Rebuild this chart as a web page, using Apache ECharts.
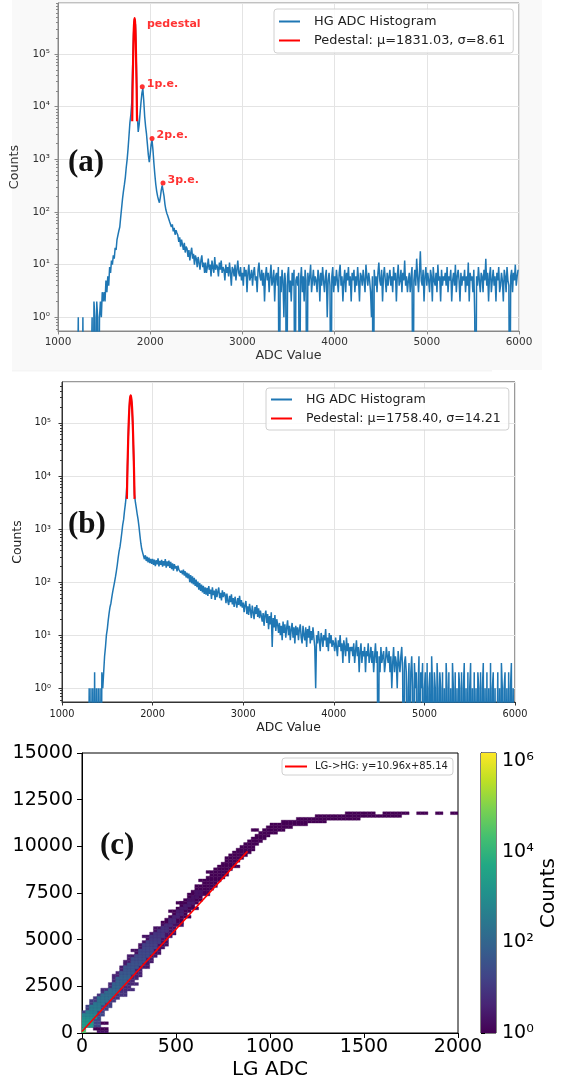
<!DOCTYPE html>
<html><head><meta charset="utf-8">
<script src="https://cdn.jsdelivr.net/npm/echarts@6/dist/echarts.min.js"></script>
<style>html,body{margin:0;padding:0;background:#fff}#c{width:570px;height:1083px}</style>
</head><body><div id="c"></div><script>
// ================= DATA =================
// Panel (a): HG ADC histogram (counts per bin)
const aCoreStart = 1200, aCoreStep = 10;
const aCoreCounts = [
 0,0,1,0,0,0,0,1,0,0,
 0,0,0,0,0,0,0,1,0,2,
 1,0,2,1,0,1,2,1,3,2,
 3,2,5,3,6,4,9,7,12,10,
 15,13,21,19,30,28,44,52,80,120,
 180,250,330,450,700,1000,1600,2800,5000,7000,
 12000,60000,250000,460000,360000,60000,7000,3300,4500,7500,
 12000,18000,22000,13000,6500,4200,3000,1900,1200,880,
 1250,1900,2300,1500,850,520,340,250,200,170,
 150,190,260,320,300,200,140,110,95,85,
 78,66,70,52,58,43,50,37,45,40,
 36,27,33,22,30,24,19,26,17,22,
 20,14,19,12,17,21,13,16,10,15,
 13,9,14,11,8,12,15,9,11,7
];
const aTailStart = 2600, aTailStep = 10;
const aTailCounts = [
 11,7,9,13,8,10,6,12,9,7,14,8,10,9,6,11,8,12,7,9,
 8,5,10,7,9,6,11,7,4,9,8,6,10,5,8,12,7,6,9,5,
 7,4,9,6,8,3,7,10,5,6,8,4,7,9,5,6,3,8,11,6,
 5,8,4,7,2,6,9,5,7,3,6,10,4,5,8,2,6,7,4,9,
 0,6,3,8,5,1,7,4,0,6,9,3,5,2,7,4,8,0,5,6,
 4,7,0,5,9,3,6,2,8,5,0,7,4,6,10,3,5,8,4,6,
 5,3,8,6,2,7,4,9,5,3,6,8,1,5,7,4,0,6,9,3,
 6,4,8,5,3,7,10,4,6,2,5,8,3,7,5,9,4,6,2,7,
 5,8,3,6,4,9,5,2,7,6,4,8,5,3,10,6,4,7,5,3,
 1,6,0,8,4,6,3,7,11,5,4,8,2,6,9,5,3,7,4,6,
 8,4,6,3,9,5,7,2,6,10,4,5,8,3,7,5,12,4,6,3,
 5,7,3,6,9,0,5,8,4,13,6,3,7,18,5,4,8,2,6,9,
 4,7,5,3,8,6,2,9,5,4,7,3,10,5,6,2,8,4,6,5,
 7,4,9,3,6,5,8,2,5,7,4,10,3,6,8,5,2,7,4,6,
 5,8,3,6,4,11,2,7,5,6,3,8,1,0,6,4,9,5,3,7,
 6,3,8,5,13,4,7,2,6,9,3,5,8,4,6,2,7,5,9,3,
 4,7,5,2,8,6,3,9,5,4,0,6,8,3,7,5,10,4,6,8
];
const aPedX = [1805,1809,1814,1818,1822,1827,1831,1835,1840,1844,1848,1853,1857];
const aPedY = [5300,21000,65000,156000,290000,420000,480000,420000,290000,156000,65000,21000,5300];
const peLabels = ['1p.e.','2p.e.','3p.e.'];
const peADC = [1914,2020,2139];
const peCounts = [24000,2500,357];
const pedestalLabelPos = [1965, 370000];

// Panel (b)
const bCoreStart = 1200, bCoreStep = 10;
const bCoreCounts = [
 0,0,0,0,0,0,0,0,0,0,
 1,0,1,0,1,0,2,0,1,0,
 1,0,1,0,2,1,2,4,6,10,
 13,19,26,34,40,52,66,81,100,125,
 160,210,290,380,460,620,850,1200,1500,2200,
 3000,4500,9000,46000,150000,290000,330000,240000,100000,25000,
 4500,3200,2500,1900,1500,1100,760,540,420,360,
 340,270,320,250,300,235,290,228,275,220,
 275,210,265,200,258,215,280,198,250,212,
 262,195,248,205,270,188,245,200,255,185,
 240,175,225,165,218,180,200,160,205,172,
 180,150,165,140,172,132,160,122,150,118,
 145,100,135,95,128,90,120,85,112,80,
 102,72,96,68,90,64,85,60,80,58
];
const bTailStart = 2600, bTailStep = 10;
const bTailCounts = [
 78,55,84,60,72,48,80,57,69,46,75,52,66,79,50,63,45,70,52,64,
 58,40,61,44,37,55,42,59,38,50,34,53,41,33,50,37,55,35,46,33,
 41,27,37,44,25,35,24,39,29,21,36,27,20,34,25,37,22,32,21,29,
 28,18,26,15,24,29,17,25,13,23,16,27,6,21,14,24,12,20,16,11,
 17,10,15,8,18,11,16,9,14,19,10,15,8,13,17,9,14,7,15,10,
 14,8,13,16,9,7,15,10,8,14,6,13,9,15,7,12,8,14,9,6,
 1,10,7,12,8,5,11,9,6,10,8,13,6,9,5,11,7,10,6,8,
 7,5,9,6,4,8,6,10,5,7,3,8,6,4,9,5,7,3,6,5,
 6,4,7,3,5,8,4,6,2,5,7,3,5,4,6,2,5,4,7,3,
 4,6,3,5,2,4,7,3,5,0,4,2,6,3,4,5,2,3,6,4,
 3,5,2,4,1,3,6,2,4,3,1,5,3,2,4,6,2,0,3,4,
 2,0,1,3,0,2,4,1,0,3,1,2,0,1,4,0,2,1,3,0,
 1,2,0,3,0,1,2,0,4,1,0,2,1,0,3,1,0,2,1,0,
 2,0,1,0,3,1,0,2,0,1,0,3,1,0,2,0,1,0,2,1,
 0,2,0,1,3,0,1,0,2,0,1,3,0,1,0,2,0,1,0,2,
 1,0,2,0,1,3,0,1,0,2,0,1,0,3,0,1,2,0,1,0,
 0,2,0,1,0,3,1,0,1,2,0,1,0,2,0,1,3,0,1,0
];
const bPedX = [1716,1723,1730,1737,1744,1751,1758,1765,1773,1780,1787,1794,1801];
const bPedY = [3700,15000,44000,108000,200000,290000,330000,290000,200000,108000,44000,15000,3700];

// Panel (c): 2D histogram LG vs HG, stored per HG row (row r covers HG r*150 .. r*150+150)
const lgBin = 20, hgBin = 150;
const rowLo = [0,0,0,0,0,0,0,0,20,20, 40,40,60,80,100,100,140,140,160,160,
 160,180,200,200,220,220,240,240,280,260, 300,300,320,340,320,360,380,380,420,420,
 440,460,480,460,500,520,520,540,560,560, 580,600,600,640,620,660,680,660,700,720,
 740,760,760,780,800,820,840,860,880,900, 920,940,960,980,1000,1060,1140,1240,1400,-1];
const rowHi = [20,20,100,100,100,100,120,120,140,160, 160,180,200,240,240,280,260,300,280,300,
 320,320,320,360,360,380,380,400,420,420, 440,460,460,460,480,500,500,500,540,540,
 540,580,560,580,620,600,620,640,640,680, 680,700,720,720,740,760,780,780,800,840,
 820,840,860,880,900,920,920,940,960,980, 1000,1040,1080,1120,1200,1300,1480,1700,1560,-1];
const rowCount = [30000,6000,20,20,20,20,20,15,15,15, 12,12,10,8,8,6,6,5,5,5,
 4,4,4,3,3,3,3,3,2,2, 2,2,2,2,2,2,2,2,2,1,
 1,1,1,1,1,1,1,1,1,1, 1,1,1,1,1,1,1,1,1,1,
 1,1,1,1,1,1,1,1,1,1, 1,1,1,1,1,1,1,1,1,0];
// extra isolated runs: [row, lgFrom, lgTo, count]
const strayRuns = [[0,80,140,2],[1,60,140,1],[3,100,140,1],[46,500,540,1],[72,900,940,1],
 [78,1600,1740,1],[78,1780,1840,1],[78,1880,1920,1],[78,1960,2000,1]];
// brighter core runs: [row, lgFrom, lgTo, count]
const coreRuns = [
 [2,0,60,2500],[3,0,60,2000],[4,0,60,1500],[5,0,80,900],[6,0,80,600],
 [7,20,80,400],[8,40,100,350],[9,40,100,300],[10,60,120,250],[11,80,140,200],[12,80,160,180],
 [13,100,180,150],[14,120,200,130],[15,140,200,110],[16,160,220,100],[17,160,240,90],[18,180,240,80],[19,180,260,70],[20,200,260,60],
 [21,200,280,50],[22,220,280,45],[23,220,300,40],[24,240,320,35],[25,260,340,30],[26,260,340,28],[27,280,360,25],[28,300,380,22],[29,300,380,20],[30,320,400,18],
 [31,320,400,15],[32,340,420,13],[33,360,420,12],[34,360,440,10],[35,380,440,9],[36,400,460,8],[37,420,460,7],[38,440,480,6],[39,460,500,5],[40,460,500,5],
 [41,480,520,4],[42,500,540,4],[43,500,540,3],[44,520,560,3],[45,540,580,3],[46,560,600,3],[47,560,600,2],[48,580,620,2],[49,600,640,2],[50,600,640,2]
];
const fitLG = [0, 880];
const fitHG = [85.14, 9729.9];
const cbMin = 1, cbMax = 1.5e6;
const cbTicks = [1, 100, 10000, 1000000];

// ================= BUILD =================
function histPairs(start, step, counts) {
  return counts.map((c, i) => [start + i * step, c > 0 ? c : 1e-3]);
}
const aHist = histPairs(aCoreStart, aCoreStep, aCoreCounts).concat(histPairs(aTailStart, aTailStep, aTailCounts));
const bHist = histPairs(bCoreStart, bCoreStep, bCoreCounts).concat(histPairs(bTailStart, bTailStep, bTailCounts));
const aPed = aPedX.map((x, i) => [x, aPedY[i]]);
const bPed = bPedX.map((x, i) => [x, bPedY[i]]);
const peDots = peADC.map((x, i) => [x, peCounts[i], peLabels[i]]);

const cells = [];
function addRun(r, lo, hi, c) { for (let lg = lo; lg < hi; lg += lgBin) cells.push([lg, r * hgBin, c]); }
rowLo.forEach((lo, r) => { if (lo >= 0) addRun(r, lo, rowHi[r], rowCount[r]); });
strayRuns.forEach(s => addRun(s[0], s[1], s[2], s[3]));
coreRuns.forEach(s => addRun(s[0], s[1], s[2], s[3]));

const VIR = ['#440154','#482475','#414487','#355f8d','#2a788e','#21918c','#22a884','#44bf70','#7ad151','#bddf26','#fde725'];
function hex(h){return [parseInt(h.slice(1,3),16),parseInt(h.slice(3,5),16),parseInt(h.slice(5,7),16)];}
function viridis(t){
  t = Math.max(0, Math.min(1, t)); const f = t * 10; const i = Math.min(9, Math.floor(f)); const u = f - i;
  const a = hex(VIR[i]), b = hex(VIR[i+1]);
  return 'rgb(' + a.map((v, k) => Math.round(v + (b[k] - v) * u)).join(',') + ')';
}
const SUP = {'0':'⁰','1':'¹','2':'²','3':'³','4':'⁴','5':'⁵','6':'⁶','7':'⁷','8':'⁸','9':'⁹','-':'⁻'};
function powLabel(v){
  const e = Math.round(Math.log10(v));
  if (Math.abs(Math.log10(v) - e) > 1e-6) return '';
  return '10' + String(e).split('').map(ch => SUP[ch]).join('');
}
function minorVals(lo, hi){ const out=[]; for(let e=-1;e<=6;e++) for(let m=2;m<=9;m++){const v=m*Math.pow(10,e); if(v>lo&&v<hi) out.push(v);} return out; }
const plain = v => String(v);

const FONT = 'DejaVu Sans';
const aYmin = 0.55, aYmax = 9.3e5, bYmin = 0.55, bYmax = 5.9e5;

function xHist(gridIndex, fs, margin, gap, nameFs, col, spine){
  return {gridIndex, type:'value', min:1000, max:6000, interval:1000,
    name:'ADC Value', nameLocation:'middle', nameGap:gap,
    nameTextStyle:{fontFamily:FONT, fontSize:nameFs, color:col},
    axisLine:{show:true, lineStyle:{color:spine, width:1}},
    axisTick:{show:true, inside:false, length:3.5, lineStyle:{color:spine}},
    axisLabel:{fontFamily:FONT, fontSize:fs, color:col, margin, formatter:plain},
    splitLine:{show:true, lineStyle:{color:'#e4e4e4', width:1}}};
}
function yHist(gridIndex, min, max, fs, margin, gap, nameFs, col, spine){
  return [{gridIndex, type:'log', logBase:10, min, max, position:'left',
    name:'Counts', nameLocation:'middle', nameGap:gap,
    nameTextStyle:{fontFamily:FONT, fontSize:nameFs, color:col},
    axisLine:{show:true, lineStyle:{color:spine, width:1}},
    axisTick:{show:true, inside:false, length:3.5, lineStyle:{color:spine}},
    axisLabel:{fontFamily:FONT, fontSize:fs, color:col, margin, formatter:powLabel, showMinLabel:false, showMaxLabel:false},
    splitLine:{show:true, lineStyle:{color:'#e4e4e4', width:1}}},
   {gridIndex, type:'log', logBase:10, min, max, position:'left',
    axisLine:{show:false}, splitLine:{show:false},
    axisTick:{show:true, inside:false, length:2, lineStyle:{color:spine}, customValues:minorVals(min,max)},
    axisLabel:{show:false}}];
}

const option = {
  animation:false,
  backgroundColor:'#fff',
  graphic:[
    {type:'rect', z:-10, silent:true, shape:{x:12, y:0, width:530, height:370}, style:{fill:'#f9f9f9'}},
    {type:'rect', z:-10, silent:true, shape:{x:12, y:370.5, width:480, height:0.8}, style:{fill:'#ececec'}},
    {type:'text', z:50, style:{text:'(a)', x:68, y:163, verticalAlign:'middle', font:'bold 31px "Liberation Serif"', fill:'#111'}},
    {type:'text', z:50, style:{text:'(b)', x:68, y:525, verticalAlign:'middle', font:'bold 31px "Liberation Serif"', fill:'#111'}},
    {type:'text', z:50, style:{text:'(c)', x:100, y:846, verticalAlign:'middle', font:'bold 31px "Liberation Serif"', fill:'#111'}}
  ],
  grid:[
    {left:58, top:3, width:461, height:328, show:true, backgroundColor:'#fff', borderColor:'#888', borderWidth:1, outerBoundsMode:'none', containLabel:false},
    {left:62, top:382, width:453, height:320, show:true, backgroundColor:'#fff', borderColor:'#333', borderWidth:1, outerBoundsMode:'none', containLabel:false},
    {left:82, top:753, width:376, height:280, show:true, backgroundColor:'#fff', borderColor:'#000', borderWidth:1, outerBoundsMode:'none', containLabel:false},
    {left:481, top:753, width:15, height:280, show:true, borderColor:'#000', borderWidth:1, outerBoundsMode:'none', containLabel:false}
  ],
  legend:[
    {data:['HG ADC Histogram','Pedestal: μ=1831.03, σ=8.61'], orient:'vertical', left:274, top:9,
     icon:'rect', itemWidth:21, itemHeight:2, itemGap:4, padding:[5,8,5,5],
     backgroundColor:'rgba(255,255,255,0.85)', borderColor:'#d0d0d0', borderWidth:1, borderRadius:3,
     textStyle:{fontFamily:FONT, fontSize:12.9, color:'#222', lineHeight:15, padding:[0,0,0,9]}, selectedMode:false},
    {data:['HG ADC Histogram','Pedestal: μ=1758.40, σ=14.21'], orient:'vertical', left:266, top:388,
     icon:'rect', itemWidth:21, itemHeight:2, itemGap:4, padding:[4,8,4,5],
     backgroundColor:'rgba(255,255,255,0.85)', borderColor:'#d0d0d0', borderWidth:1, borderRadius:3,
     textStyle:{fontFamily:FONT, fontSize:12.6, color:'#222', lineHeight:15, padding:[0,0,0,9]}, selectedMode:false},
    {data:['LG->HG: y=10.96x+85.14'], orient:'vertical', left:282, top:758,
     icon:'rect', itemWidth:22, itemHeight:2, padding:[3,5,3,3],
     backgroundColor:'#fff', borderColor:'#d0d0d0', borderWidth:1, borderRadius:3,
     textStyle:{fontFamily:FONT, fontSize:10, color:'#222', lineHeight:11, padding:[0,0,0,3]}, selectedMode:false}
  ],
  xAxis:[
    xHist(0, 10.5, 6, 18, 12.7, '#333', '#888'),
    xHist(1, 9.8, 7, 20, 12.4, '#222', '#333'),
    {gridIndex:2, type:'value', min:0, max:2000, interval:500,
     name:'LG ADC', nameLocation:'middle', nameGap:27, nameTextStyle:{fontFamily:FONT, fontSize:20, color:'#000'},
     axisLine:{show:true, lineStyle:{color:'#000'}}, axisTick:{show:true, length:5, lineStyle:{color:'#000'}},
     axisLabel:{fontFamily:FONT, fontSize:19, color:'#000', margin:5, formatter:plain}, splitLine:{show:false}},
    {gridIndex:3, type:'value', min:0, max:1, show:false}
  ],
  yAxis:[].concat(
    yHist(0, aYmin, aYmax, 10.5, 8, 32, 12.7, '#333', '#888'),
    yHist(1, bYmin, bYmax, 9.8, 11, 32, 12.4, '#222', '#333'),
    [{gridIndex:2, type:'value', min:0, max:15000, interval:2500,
      name:'HG ADC', nameLocation:'middle', nameGap:67, nameTextStyle:{fontFamily:FONT, fontSize:20, color:'#000'},
      axisLine:{show:true, lineStyle:{color:'#000'}}, axisTick:{show:true, length:5, lineStyle:{color:'#000'}},
      axisLabel:{fontFamily:FONT, fontSize:19, color:'#000', margin:9, formatter:plain}, splitLine:{show:false}},
     {gridIndex:3, type:'log', logBase:10, min:cbMin, max:cbMax, position:'right',
      name:'Counts', nameLocation:'middle', nameGap:43, nameTextStyle:{fontFamily:FONT, fontSize:20, color:'#000'},
      axisLine:{show:true, lineStyle:{color:'#000'}},
      axisTick:{show:true, length:4, lineStyle:{color:'#000'}, customValues:cbTicks},
      axisLabel:{fontFamily:FONT, fontSize:19, color:'#000', margin:6, formatter:powLabel, customValues:cbTicks},
      splitLine:{show:false}}]
  ),
  series:[
    {name:'HG ADC Histogram', type:'line', xAxisIndex:0, yAxisIndex:0, data:aHist, symbol:'none', clip:true,
     color:'#1f77b4', lineStyle:{color:'#1f77b4', width:1.5}, z:2},
    {name:'Pedestal: μ=1831.03, σ=8.61', type:'line', xAxisIndex:0, yAxisIndex:0, data:aPed, symbol:'none', smooth:0.25, clip:true,
     color:'#ff0000', lineStyle:{color:'#ff0000', width:2.2}, z:3},
    {name:'pe', type:'scatter', xAxisIndex:0, yAxisIndex:0, data:peDots, symbolSize:5, itemStyle:{color:'#ff0000'}, z:4,
     label:{show:true, position:'right', distance:2, offset:[0,-3], formatter:p=>p.data[2],
       fontFamily:FONT, fontWeight:'bold', fontSize:11, color:'#ff0000'}},
    {name:'pedlabel', type:'scatter', xAxisIndex:0, yAxisIndex:0, data:[pedestalLabelPos.concat(['pedestal'])], symbolSize:0, z:4,
     label:{show:true, position:[0,0], align:'left', verticalAlign:'middle', formatter:p=>p.data[2],
       fontFamily:FONT, fontWeight:'bold', fontSize:11, color:'#ff0000'}},
    {name:'HG ADC Histogram', type:'line', xAxisIndex:1, yAxisIndex:2, data:bHist, symbol:'none', clip:true,
     color:'#1f77b4', lineStyle:{color:'#1f77b4', width:1.5}, z:2},
    {name:'Pedestal: μ=1758.40, σ=14.21', type:'line', xAxisIndex:1, yAxisIndex:2, data:bPed, symbol:'none', smooth:0.25, clip:true,
     color:'#ff0000', lineStyle:{color:'#ff0000', width:2.2}, z:3},
    {name:'hist2d', type:'custom', xAxisIndex:2, yAxisIndex:4, data:cells, clip:true, z:2,
     renderItem:(params, api) => {
       const lg = api.value(0), hg = api.value(1), c = api.value(2);
       const p0 = api.coord([lg, hg + hgBin]), p1 = api.coord([lg + lgBin, hg]);
       const col = viridis(Math.log10(c) / Math.log10(cbMax));
       return {type:'rect', shape:{x:p0[0], y:p0[1], width:p1[0]-p0[0], height:p1[1]-p0[1]},
               style:{fill:col, stroke:col, lineWidth:0.4}};
     }},
    {name:'LG->HG: y=10.96x+85.14', type:'line', xAxisIndex:2, yAxisIndex:4, data:fitLG.map((x,i)=>[x, fitHG[i]]),
     symbol:'none', color:'#ff0000', lineStyle:{color:'#ff0000', width:1.5}, z:5},
    {name:'colorbar', type:'custom', xAxisIndex:3, yAxisIndex:5, data:[[0]], z:1,
     renderItem:(params, api) => {
       const p0 = api.coord([0, cbMin]), p1 = api.coord([1, cbMax]);
       return {type:'rect', shape:{x:p0[0], y:p1[1], width:p1[0]-p0[0], height:p0[1]-p1[1]},
         style:{fill:new echarts.graphic.LinearGradient(0,1,0,0, VIR.map((c,i)=>({offset:i/10, color:c})))}};
     }}
  ]
};
const chart = echarts.init(document.getElementById('c'), null, {renderer:'canvas', width:570, height:1083});
chart.setOption(option);
</script></body></html>
